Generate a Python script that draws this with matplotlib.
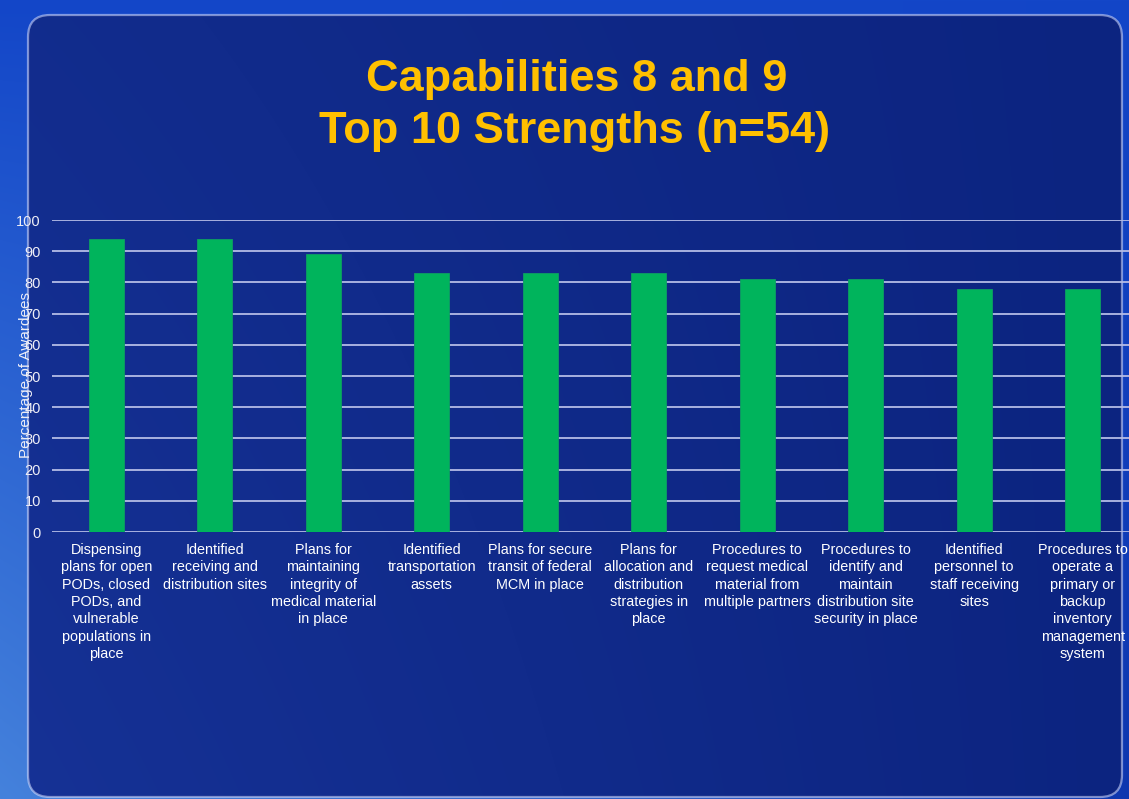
import matplotlib.pyplot as plt
import numpy as np
from matplotlib.patches import FancyBboxPatch

# Data
categories = [
    "Dispensing\nplans for open\nPODs, closed\nPODs, and\nvulnerable\npopulations in\nplace",
    "Identified\nreceiving and\ndistribution sites",
    "Plans for\nmaintaining\nintegrity of\nmedical material\nin place",
    "Identified\ntransportation\nassets",
    "Plans for secure\ntransit of federal\nMCM in place",
    "Plans for\nallocation and\ndistribution\nstrategies in\nplace",
    "Procedures to\nrequest medical\nmaterial from\nmultiple partners",
    "Procedures to\nidentify and\nmaintain\ndistribution site\nsecurity in place",
    "Identified\npersonnel to\nstaff receiving\nsites",
    "Procedures to\noperate a\nprimary or\nbackup\ninventory\nmanagement\nsystem",
]
percent = [94, 94, 89, 83, 83, 83, 81, 81, 78, 78]
y_ticks = [0, 10, 20, 30, 40, 50, 60, 70, 80, 90, 100]

plt.rcParams["font.family"] = ["Liberation Sans", "DejaVu Sans"]

W, H = 1129, 799
fig = plt.figure(figsize=(W / 100, H / 100), dpi=100)

# background (outside)
bg = fig.add_axes([0, 0, 1, 1])
bg.set_xlim(0, W)
bg.set_ylim(H, 0)
bg.axis("off")
xs = np.linspace(0, 1, W)[None, :, None]
ys = np.linspace(0, 1, H)[:, None, None]
outer = np.array([14, 55, 175]) + ys * np.array([55, 75, 45]) * (1 - xs) + (1 - ys) * np.array([5, 15, 25])
bg.imshow(np.clip(outer, 0, 255).astype(np.uint8), extent=(0, W, H, 0), aspect="auto", zorder=0)

# background (inside, rounded)
box = FancyBboxPatch((28, 15), 1094, 782, boxstyle="round,pad=0,rounding_size=22",
                     facecolor="none", edgecolor=(0.85, 0.88, 1.0, 0.55), linewidth=1.6, zorder=3)
bg.add_patch(box)
inner = np.array([12, 36, 128]) + (1 - xs) * np.array([10, 14, 22]) * (0.6 + 0.4 * ys)
im = bg.imshow(np.clip(inner, 0, 255).astype(np.uint8), extent=(0, W, H, 0), aspect="auto", zorder=1)
im.set_clip_path(box)

# title
title_color = "#FFC000"
fig.text(0.511, 1 - 80 / H, "Capabilities 8 and 9", ha="center", va="center",
         fontsize=32.5, fontweight="bold", color=title_color)
fig.text(0.509, 1 - 131 / H, "Top 10 Strengths (n=54)", ha="center", va="center",
         fontsize=32.5, fontweight="bold", color=title_color)

# chart
ax = fig.add_axes([52 / W, 267 / H, 1085 / W, 312 / H])
ax.patch.set_alpha(0)
x = np.arange(len(categories))
ax.bar(x, percent, width=0.32, color="#00B45C", edgecolor="#0E9E63", linewidth=0.6, zorder=3)
ax.set_xlim(-0.5, len(categories) - 0.5)
ax.set_ylim(0, 100)
ax.set_yticks(y_ticks)
ax.set_xticks(x)
ax.set_xticklabels(categories, fontsize=10.4, color="white", linespacing=1.3, va="top")
ax.tick_params(axis="x", length=0, pad=8)
ax.tick_params(axis="y", length=0, pad=8, labelsize=10.5, labelcolor="#EEEEF6")
ax.grid(axis="y", color="#B4BCE6", linewidth=1.3, zorder=1)
for s in ax.spines.values():
    s.set_visible(False)

fig.text(26 / W, 1 - 375 / H, "Percentage of Awardees", rotation=90, ha="center", va="center",
         fontsize=11, color="#EEEEF6")

fig.savefig("out.png", dpi=100)
